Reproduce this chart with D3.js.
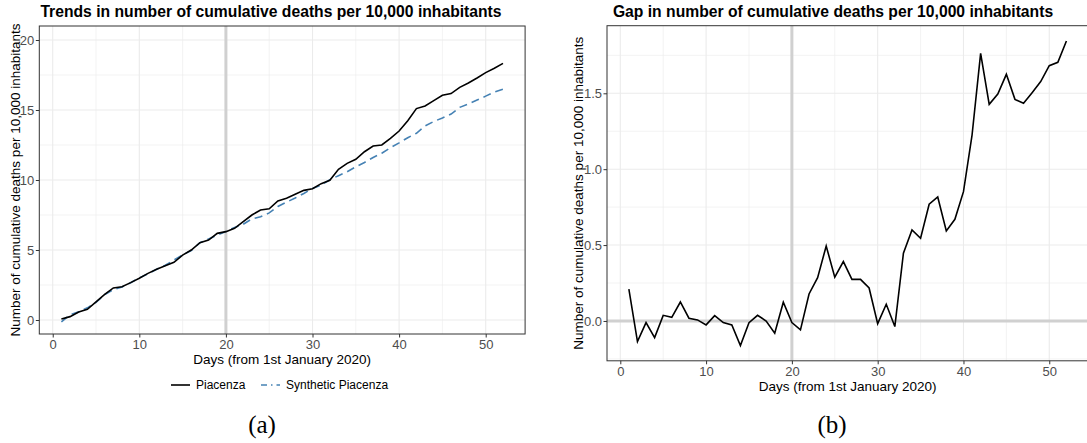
<!DOCTYPE html>
<html>
<head>
<meta charset="utf-8">
<script src="https://cdn.jsdelivr.net/npm/d3@7"></script>
<style>
  body { margin: 0; background: #fff; }
  text { font-family: "Liberation Sans", Arial, sans-serif; }
  .domain { display: none; }
</style>
</head>
<body>
<script>
// days 1..52
const days = d3.range(1, 53);

// cumulative deaths per 10,000 inhabitants, Piacenza
const piacenza = [0.07, 0.24, 0.57, 0.76, 1.30, 1.83, 2.29, 2.38, 2.67, 2.98,
  3.33, 3.62, 3.88, 4.12, 4.64, 5.00, 5.52, 5.71, 6.19, 6.31,
  6.55, 7.02, 7.50, 7.86, 7.94, 8.50, 8.69, 8.98, 9.26, 9.38,
  9.74, 9.98, 10.76, 11.19, 11.48, 12.02, 12.43, 12.50, 12.98, 13.50,
  14.24, 15.10, 15.29, 15.67, 16.05, 16.17, 16.62, 16.93, 17.29, 17.67,
  17.98, 18.33];

// synthetic Piacenza
const synthetic = [-0.14, 0.38, 0.58, 0.87, 1.26, 1.81, 2.17, 2.36, 2.66, 3.01,
  3.30, 3.63, 3.91, 4.28, 4.65, 4.96, 5.52, 5.79, 6.07, 6.32,
  6.61, 6.84, 7.22, 7.37, 7.65, 8.11, 8.42, 8.71, 9.04, 9.40,
  9.63, 10.02, 10.31, 10.59, 10.94, 11.25, 11.61, 11.91, 12.31, 12.65,
  13.02, 13.34, 13.86, 14.18, 14.43, 14.71, 15.19, 15.43, 15.71, 15.99,
  16.28, 16.49];

// gap between the two
const gap = [0.21, -0.136, -0.011, -0.11, 0.037, 0.024, 0.125, 0.018, 0.007, -0.026,
  0.035, -0.011, -0.026, -0.162, -0.011, 0.037, 0.0, -0.081, 0.123, -0.011,
  -0.059, 0.178, 0.285, 0.494, 0.288, 0.391, 0.274, 0.274, 0.217, -0.018,
  0.11, -0.037, 0.446, 0.60, 0.545, 0.769, 0.817, 0.593, 0.67, 0.852,
  1.225, 1.763, 1.427, 1.495, 1.625, 1.46, 1.434, 1.504, 1.577, 1.682,
  1.704, 1.845];

const xTicks = [0, 10, 20, 30, 40, 50];
const xMinor = [5, 15, 25, 35, 45];
const yTicksLeft = [0, 5, 10, 15, 20];
const yMinorLeft = [2.5, 7.5, 12.5, 17.5];
const yTicksRight = [0, 0.5, 1.0, 1.5];
const yMinorRight = [-0.25, 0.25, 0.75, 1.25, 1.75];

const interventionDay = 20;
const yLabel = 'Number of cumulative deaths per 10,000 inhabitants';
const xLabel = 'Days (from 1st January 2020)';

const w = 1087, h = 443;
const svg = d3.select('body').append('svg')
  .attr('width', w)
  .attr('height', h);

// ggplot-like tick styling
function styleAxis(sel) {
  sel.selectAll('.tick text')
    .attr('fill', '#4d4d4d')
    .style('font-size', '13px')
    .style('font-family', '"Liberation Sans", Arial, sans-serif');
  sel.selectAll('.tick line').attr('stroke', '#333');
}

// draws one ggplot-ish panel
function panel(opt) {
  const x = d3.scaleLinear().domain([-1.55, 54.55]).range(opt.xRange);
  const y = d3.scaleLinear().domain(opt.yDomain).range(opt.yRange);
  const [x0, x1] = opt.xRange;
  const [y1, y0] = opt.yRange;

  const clipId = 'clip' + opt.id;
  svg.append('clipPath').attr('id', clipId)
    .append('rect')
    .attr('x', x0).attr('y', y0)
    .attr('width', x1 - x0).attr('height', y1 - y0);

  const g = svg.append('g');
  const grid = g.append('g').attr('clip-path', `url(#${clipId})`);

  // minor grid
  grid.selectAll('.vminor').data(xMinor).enter().append('line')
    .attr('x1', d => x(d)).attr('x2', d => x(d))
    .attr('y1', y0).attr('y2', y1)
    .attr('stroke', '#ebebeb').attr('stroke-width', 0.6);
  grid.selectAll('.hminor').data(opt.yMinor).enter().append('line')
    .attr('y1', d => y(d)).attr('y2', d => y(d))
    .attr('x1', x0).attr('x2', x1)
    .attr('stroke', '#ebebeb').attr('stroke-width', 0.6);
  // major grid
  grid.selectAll('.vmajor').data(xTicks).enter().append('line')
    .attr('x1', d => x(d)).attr('x2', d => x(d))
    .attr('y1', y0).attr('y2', y1)
    .attr('stroke', '#ebebeb').attr('stroke-width', 1.1);
  grid.selectAll('.hmajor').data(opt.yTicks).enter().append('line')
    .attr('y1', d => y(d)).attr('y2', d => y(d))
    .attr('x1', x0).attr('x2', x1)
    .attr('stroke', '#ebebeb').attr('stroke-width', 1.1);

  // reference lines
  grid.append('line')
    .attr('x1', x(interventionDay)).attr('x2', x(interventionDay))
    .attr('y1', y0).attr('y2', y1)
    .attr('stroke', '#d0d0d0').attr('stroke-width', 3);
  if (opt.zeroLine) {
    grid.append('line')
      .attr('y1', y(0)).attr('y2', y(0))
      .attr('x1', x0).attr('x2', x1)
      .attr('stroke', '#d0d0d0').attr('stroke-width', 3);
  }

  // series
  opt.series.forEach(s => {
    const line = d3.line()
      .x((d, i) => x(days[i]))
      .y(d => y(d));
    grid.append('path')
      .datum(s.values)
      .attr('fill', 'none')
      .attr('stroke', s.color)
      .attr('stroke-width', 1.6)
      .attr('stroke-dasharray', s.dash || null)
      .attr('d', line);
  });

  // border
  g.append('rect')
    .attr('x', x0).attr('y', y0)
    .attr('width', x1 - x0).attr('height', y1 - y0)
    .attr('fill', 'none').attr('stroke', '#333').attr('stroke-width', 1);

  // axes
  g.append('g')
    .attr('transform', `translate(0,${y1})`)
    .call(d3.axisBottom(x).tickValues(xTicks).tickSize(3.5).tickPadding(2.5).tickFormat(d3.format('d')))
    .call(styleAxis);
  g.append('g')
    .attr('transform', `translate(${x0},0)`)
    .call(d3.axisLeft(y).tickValues(opt.yTicks).tickSize(3.5).tickPadding(1.5).tickFormat(opt.yFormat))
    .call(styleAxis);

  // axis titles
  g.append('text')
    .attr('x', (x0 + x1) / 2).attr('y', y1 + 30)
    .attr('text-anchor', 'middle')
    .style('font-size', '13.5px')
    .text(xLabel);
  g.append('text')
    .attr('transform', `translate(${opt.yLabelX},${(y0 + y1) / 2}) rotate(-90)`)
    .attr('text-anchor', 'middle')
    .style('font-size', '13.5px')
    .text(yLabel);

  // title
  g.append('text')
    .attr('x', opt.titleX).attr('y', 17)
    .attr('text-anchor', 'middle')
    .style('font-size', '15.7px')
    .style('font-weight', 'bold')
    .text(opt.title);

  // caption
  g.append('text')
    .attr('x', opt.captionX).attr('y', 433)
    .attr('text-anchor', 'middle')
    .style('font-family', '"Liberation Serif", "DejaVu Serif", serif')
    .style('font-size', '25px')
    .text(opt.caption);

  return { x, y, g };
}

const left = panel({
  id: 'a',
  xRange: [39.3, 525.1],
  yDomain: [-1, 21],
  yRange: [334, 26],
  yTicks: yTicksLeft,
  yMinor: yMinorLeft,
  yFormat: d3.format('d'),
  yLabelX: 20,
  titleX: 271,
  captionX: 262,
  title: 'Trends in number of cumulative deaths per 10,000 inhabitants',
  caption: '(a)',
  series: [
    { values: synthetic, color: '#4682b4', dash: '8,5' },
    { values: piacenza, color: '#000' }
  ]
});

const right = panel({
  id: 'b',
  xRange: [607, 1088.3],
  yDomain: [-0.2625, 1.9454],
  yRange: [360.8, 25.7],
  yTicks: yTicksRight,
  yMinor: yMinorRight,
  yFormat: d3.format('.1f'),
  zeroLine: true,
  yLabelX: 583,
  titleX: 833,
  captionX: 832,
  title: 'Gap in number of cumulative deaths per 10,000 inhabitants',
  caption: '(b)',
  series: [
    { values: gap, color: '#000' }
  ]
});

// legend under left panel
const legendItems = [
  { label: 'Piacenza', color: '#000', dash: null, x: 171 },
  { label: 'Synthetic Piacenza', color: '#4682b4', dash: '6,4,1.5,4', x: 261 }
];
const legend = svg.append('g').attr('transform', 'translate(0,385)');
legendItems.forEach(item => {
  legend.append('line')
    .attr('x1', item.x).attr('x2', item.x + 19)
    .attr('y1', 0).attr('y2', 0)
    .attr('stroke', item.color)
    .attr('stroke-width', 1.6)
    .attr('stroke-dasharray', item.dash);
  legend.append('text')
    .attr('x', item.x + 25).attr('y', 4)
    .style('font-size', '12px')
    .text(item.label);
});
</script>
</body>
</html>
